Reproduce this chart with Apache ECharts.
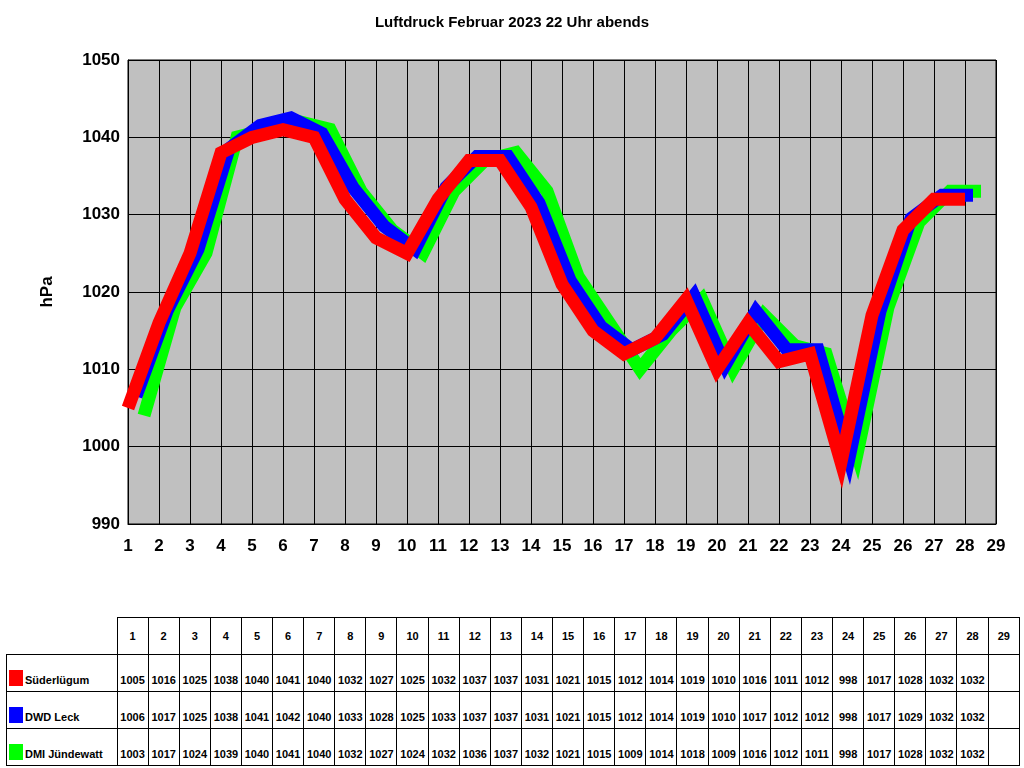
<!DOCTYPE html>
<html>
<head>
<meta charset="utf-8">
<script src="https://cdn.jsdelivr.net/npm/echarts@6/dist/echarts.min.js"></script>
<style>
body { margin: 0; background: #fff; font-family: Arial, "Liberation Sans", sans-serif; }
#chart { width: 1024px; height: 612px; }
#tbl { position: absolute; left: 6px; top: 617px; border-collapse: collapse; font-size: 11px; font-weight: bold; table-layout: fixed; width: 1014px; }
#tbl td { border: 1px solid #000; height: 31px; text-align: center; vertical-align: bottom; padding: 0 0 5px 0; overflow: hidden; white-space: nowrap; }
#tbl tr:first-child td { vertical-align: middle; padding: 0; height: 36px; }
#tbl td.lab { width: 110px; text-align: left; font-size: 11px; }
#tbl td.blank { border: none; }
.sw { display: inline-block; width: 14px; height: 16px; margin: 0 2px 0 2px; vertical-align: -2px; }
</style>
</head>
<body>
<div id="chart"></div>
<table id="tbl"></table>
<script>
var days = [];
for (var d = 1; d <= 29; d++) days.push(String(d));
var suederluegum = [1005, 1016, 1025, 1038, 1040, 1041, 1040, 1032, 1027, 1025, 1032, 1037, 1037, 1031, 1021, 1015, 1012, 1014, 1019, 1010, 1016, 1011, 1012, 998, 1017, 1028, 1032, 1032];
var dwdLeck = [1006, 1017, 1025, 1038, 1041, 1042, 1040, 1033, 1028, 1025, 1033, 1037, 1037, 1031, 1021, 1015, 1012, 1014, 1019, 1010, 1017, 1012, 1012, 998, 1017, 1029, 1032, 1032];
var dmiJuendewatt = [1003, 1017, 1024, 1039, 1040, 1041, 1040, 1032, 1027, 1024, 1032, 1036, 1037, 1032, 1021, 1015, 1009, 1014, 1018, 1009, 1016, 1012, 1011, 998, 1017, 1028, 1032, 1032];
var seriesNames = ["Süderlügum", "DWD Leck", "DMI Jündewatt"];
var colors = ["#ff0000", "#0000ff", "#00ff00"];

var chart = echarts.init(document.getElementById("chart"));
var offs = [[0, 0], [8, -4], [16, -8]];
var grids = [], xAxes = [], yAxes = [];
offs.forEach(function (o, i) {
    grids.push({ left: 128 + o[0], right: 28 - o[0], top: 60 + o[1], bottom: 88 - o[1],
        show: i == 0, backgroundColor: "#c0c0c0", borderColor: "#000" });
    xAxes.push({ type: "category", gridIndex: i, data: days, show: i == 0, boundaryGap: false,
        axisLine: { lineStyle: { color: "#000" } }, axisTick: { show: false },
        splitLine: { show: i == 0, lineStyle: { color: "#000", width: 1 } },
        axisLabel: { color: "#000", fontSize: 17, fontWeight: "bold", margin: 14 } });
    yAxes.push({ type: "value", gridIndex: i, min: 990, max: 1050, interval: 10, show: i == 0,
        name: "hPa", nameLocation: "middle", nameGap: 72, nameRotate: 90,
        nameTextStyle: { color: "#000", fontSize: 17, fontWeight: "bold" },
        axisLine: { show: true, lineStyle: { color: "#000" } }, axisTick: { show: false },
        splitLine: { show: i == 0, lineStyle: { color: "#000", width: 1 } },
        axisLabel: { color: "#000", fontSize: 17, fontWeight: "bold", margin: 8,
            formatter: function (v) { return String(v); } } });
});
var datas = [suederluegum, dwdLeck, dmiJuendewatt];
var series = [];
for (var i = 2; i >= 0; i--) {
    series.push({ name: seriesNames[i], type: "line", xAxisIndex: i, yAxisIndex: i, data: datas[i],
        symbol: "none", z: 10 - i, lineStyle: { color: colors[i], width: 13, join: "miter" } });
}
chart.setOption({
    animation: false,
    title: { text: "Luftdruck Februar 2023 22 Uhr abends", left: "center", top: 10,
        textStyle: { fontSize: 15, fontWeight: "bold", color: "#000" } },
    grid: grids, xAxis: xAxes, yAxis: yAxes, series: series
});

var html = "<tr><td class='lab blank'></td>";
days.forEach(function (d) { html += "<td>" + d + "</td>"; });
html += "</tr>";
datas.forEach(function (arr, i) {
    html += "<tr><td class='lab'><span class='sw' style='background:" + colors[i] + "'></span>" + seriesNames[i] + "</td>";
    days.forEach(function (d, j) { html += "<td>" + (arr[j] !== undefined ? arr[j] : "") + "</td>"; });
    html += "</tr>";
});
document.getElementById("tbl").innerHTML = html;
</script>
</body>
</html>
